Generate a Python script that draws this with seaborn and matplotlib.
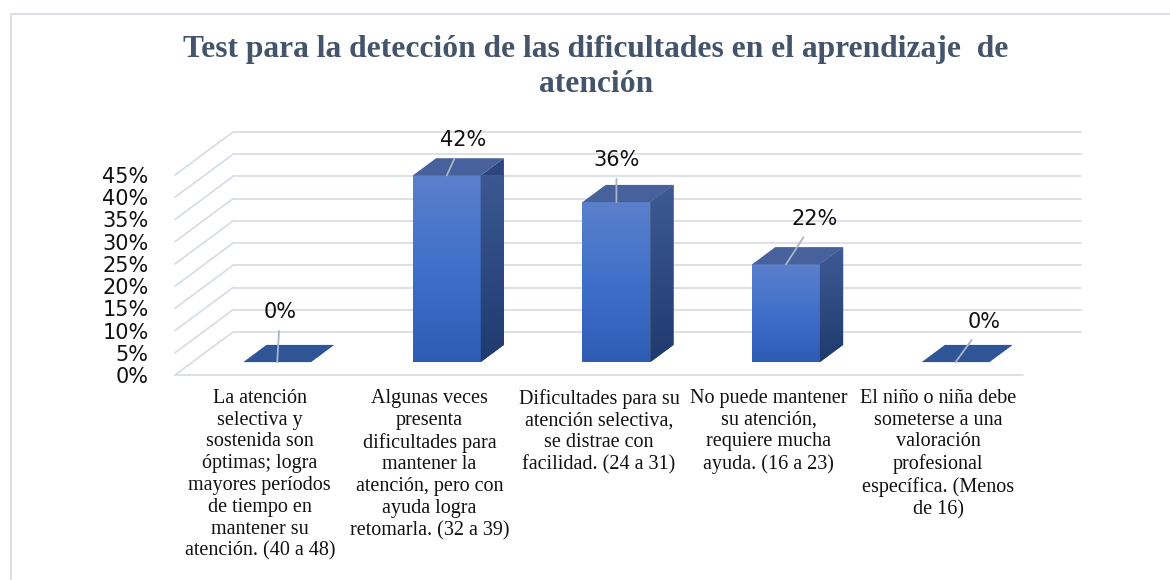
import numpy as np
import matplotlib
matplotlib.use("Agg")
import matplotlib.pyplot as plt
import seaborn as sns
import pandas as pd
from matplotlib.patches import Polygon, Rectangle
from matplotlib.lines import Line2D
from matplotlib.transforms import Affine2D, IdentityTransform
from matplotlib.colors import LinearSegmentedColormap
from matplotlib.ticker import FuncFormatter

# ---------------- data ----------------
title = "Test para la detección de las dificultades en el aprendizaje  de\natención"
categories = [
    "La atención\nselectiva y\nsostenida son\nóptimas; logra\nmayores períodos\nde tiempo en\nmantener su\natención. (40 a 48)",
    "Algunas veces\npresenta\ndificultades para\nmantener la\natención, pero con\nayuda logra\nretomarla. (32 a 39)",
    "Dificultades para su\natención selectiva,\nse distrae con\nfacilidad. (24 a 31)",
    "No puede mantener\nsu atención,\nrequiere mucha\nayuda. (16 a 23)",
    "El niño o niña debe\nsometerse a una\nvaloración\nprofesional\nespecífica. (Menos\nde 16)",
]
values = [0.00, 0.42, 0.36, 0.22, 0.00]
value_labels = ["0%", "42%", "36%", "22%", "0%"]
y_ticks = [0.00, 0.05, 0.10, 0.15, 0.20, 0.25, 0.30, 0.35, 0.40, 0.45]

# ---------------- style / layout ----------------
W, H, DPI = 1170, 580, 100
DEPTH = np.array([58.0, 43.0])          # 3-D depth vector in pixels
BAR_FRONT, BAR_BACK = 0.3, 0.7          # bar position within depth
label_offsets = [(3, 50), (16, 35), (0, 42), (29, 45), (29, 40)]  # pixels
grid_color = "#D9DEE6"
front_cmap = LinearSegmentedColormap.from_list("front", ["#2E5CB5", "#3F70C9", "#5B80CC"])
side_cmap = LinearSegmentedColormap.from_list("side", ["#1F3A6E", "#3E5B95"])
top_color = "#47619C"
flat_color = "#2F5597"

sns.set_theme(style="white")
plt.rcParams["font.family"] = ["DejaVu Sans"]

fig = plt.figure(figsize=(W / DPI, H / DPI), dpi=DPI)
fig.patch.set_facecolor("white")
ax = fig.add_axes([175 / W, (H - 375) / H, (1023 - 175) / W, 200 / H])
ax.set_facecolor("none")

df = pd.DataFrame({"cat": categories, "val": values})
sns.barplot(data=df, x="cat", y="val", width=0.4, color="#3F70C9",
            saturation=1, ax=ax, zorder=3)
ax.set_xlim(-0.5, len(categories) - 0.5)
ax.set_ylim(0, max(y_ticks))
ax.set_autoscale_on(False)

T_front = ax.transData + Affine2D().translate(*(DEPTH * BAR_FRONT))
T_back = ax.transData + Affine2D().translate(*(DEPTH * BAR_BACK))
T_wall = ax.transData + Affine2D().translate(*DEPTH)

# ---------- walls / gridlines ----------
x0, x1 = ax.get_xlim()
for t in y_ticks:
    ax.add_line(Line2D([x0, x1], [t, t], transform=T_wall, color=grid_color,
                       lw=1.3, clip_on=False, zorder=0))
    p0 = ax.transData.transform((x0, t))
    p1 = p0 + DEPTH
    ax.add_line(Line2D([p0[0], p1[0]], [p0[1], p1[1]], transform=IdentityTransform(),
                       color=grid_color, lw=1.3, clip_on=False, zorder=0))
ax.add_line(Line2D([x0, x1], [0, 0], transform=ax.transData, color=grid_color,
                   lw=1.3, clip_on=False, zorder=0))

# ---------- 3-D bars ----------
grad = np.linspace(0, 1, 256).reshape(-1, 1)
for patch, v in zip(ax.patches, values):
    bx, bw = patch.get_x(), patch.get_width()
    h = v
    patch.set_transform(T_front)
    patch.set_clip_on(False)
    patch.set_edgecolor("none")
    if h > 0:
        im = ax.imshow(grad, cmap=front_cmap, origin="lower", aspect="auto",
                       extent=(bx, bx + bw, 0, h), transform=T_front,
                       interpolation="bilinear", zorder=4)
        im.set_clip_path(patch)
        # side face
        pts = np.array([T_front.transform((bx + bw, 0)), T_front.transform((bx + bw, h)),
                        T_back.transform((bx + bw, h)), T_back.transform((bx + bw, 0))])
        side = Polygon(pts, closed=True, transform=IdentityTransform(),
                       facecolor="#2B4680", edgecolor="none", zorder=4, clip_on=False)
        ax.add_patch(side)
        ims = ax.imshow(grad, cmap=side_cmap, origin="lower", aspect="auto",
                        extent=(pts[:, 0].min(), pts[:, 0].max(), pts[:, 1].min(), pts[:, 1].max()),
                        transform=IdentityTransform(), interpolation="bilinear", zorder=4)
        ims.set_clip_path(side)
    # top face
    tpts = np.array([T_front.transform((bx, h)), T_front.transform((bx + bw, h)),
                     T_back.transform((bx + bw, h)), T_back.transform((bx, h))])
    ax.add_patch(Polygon(tpts, closed=True, transform=IdentityTransform(),
                         facecolor=top_color if h > 0 else flat_color,
                         edgecolor="none", zorder=5, clip_on=False))

# ---------- data labels with leader lines ----------
for i, (v, lab) in enumerate(zip(values, value_labels)):
    ax.annotate(lab, xy=(i, v), xycoords=T_front,
                xytext=label_offsets[i], textcoords="offset pixels",
                ha="center", va="center", fontsize=15, color="#111111",
                family="DejaVu Sans", zorder=7, annotation_clip=False,
                arrowprops=dict(arrowstyle="-", color="#A8B6C8", lw=1.3,
                                shrinkA=4, shrinkB=0))

# ---------- axes / ticks ----------
ax.set_yticks(y_ticks)
ax.yaxis.set_major_formatter(FuncFormatter(lambda v, p: f"{v * 100:.0f}%"))
ax.tick_params(axis="y", length=0, pad=19, labelsize=15, labelcolor="#111111")
ax.tick_params(axis="x", length=0, pad=10, labelsize=14.5, labelcolor="#111111")
for lbl in ax.get_xticklabels():
    lbl.set_fontfamily("Liberation Serif")
    lbl.set_linespacing(1.2)
ax.set_xlabel("")
ax.set_ylabel("")
ax.grid(False)
sns.despine(ax=ax, left=True, bottom=True)

# ---------- title ----------
fig.text(596 / W, 1 - 67 / H, title, ha="center", va="center",
         fontsize=22.7, fontweight="bold", family="Liberation Serif",
         color="#44546A", linespacing=1.26)

# ---------- chart frame ----------
fig.patches.append(Rectangle((11 / W, -0.05), 1.2, 1 - 14 / H + 0.05,
                             transform=fig.transFigure, fill=False,
                             edgecolor=grid_color, lw=1.3))

fig.savefig("out.png", dpi=DPI, facecolor="white")
